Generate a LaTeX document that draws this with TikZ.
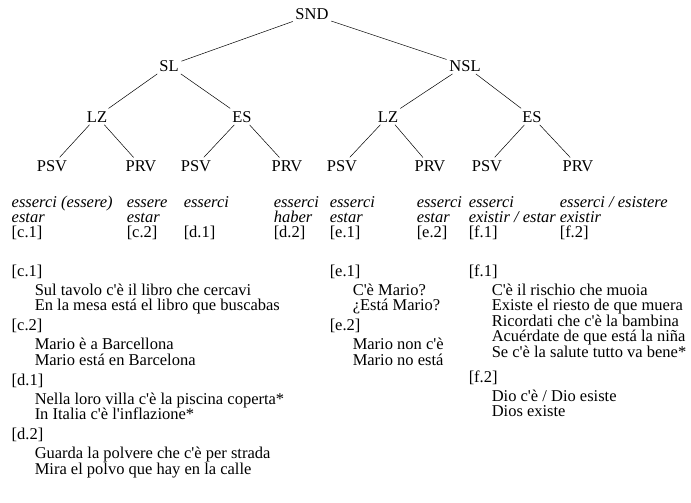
\documentclass[tikz,border=0pt]{standalone}
\usepackage{fontspec}
\setmainfont{Liberation Serif}[Ligatures=TeXOff]
\usepackage{tikz}

\begin{document}
\begin{tikzpicture}[x=1pt,y=-1pt,
   every node/.style={inner sep=2.5pt,font=\fontsize{16.5}{15}\selectfont},
   cat/.style={anchor=base},
   ex/.style={anchor=base west},
   gloss/.style={anchor=base west,font=\fontsize{16.5}{15}\selectfont\itshape},
   every path/.style={line width=0.5pt}]
   \useasboundingbox (0,0) rectangle (691,503);

   % the tree
   \node[cat] (SND) at (312,20) {SND};
   \node[cat] (SL) at (169,71) {SL};
   \node[cat] (NSL) at (465,71) {NSL};
   \node[cat] (lz-sl) at (97,122) {LZ};
   \node[cat] (es-sl) at (242,122) {ES};
   \node[cat] (lz-nsl) at (388,122) {LZ};
   \node[cat] (es-nsl) at (532,122) {ES};
   \node[cat] (psv-c1) at (52,171) {PSV};
   \node[cat] (prv-c2) at (141,171) {PRV};
   \node[cat] (psv-d1) at (196,171) {PSV};
   \node[cat] (prv-d2) at (287,171) {PRV};
   \node[cat] (psv-e1) at (342,171) {PSV};
   \node[cat] (prv-e2) at (430,171) {PRV};
   \node[cat] (psv-f1) at (487,171) {PSV};
   \node[cat] (prv-f2) at (578,171) {PRV};

   \draw (SND) -- (SL);
   \draw (SND) -- (NSL);
   \draw (SL) -- (lz-sl);
   \draw (SL) -- (es-sl);
   \draw (NSL) -- (lz-nsl);
   \draw (NSL) -- (es-nsl);
   \draw (lz-sl) -- (psv-c1);
   \draw (lz-sl) -- (prv-c2);
   \draw (es-sl) -- (psv-d1);
   \draw (es-sl) -- (prv-d2);
   \draw (lz-nsl) -- (psv-e1);
   \draw (lz-nsl) -- (prv-e2);
   \draw (es-nsl) -- (psv-f1);
   \draw (es-nsl) -- (prv-f2);

   % verbs under the leaves
   \node[gloss] (it-c1) at (9,207) {esserci (essere)};
   \node[gloss] (es-c1) at (9,222) {estar};
   \node[ex] (ref-c1) at (9,237) {[c.1]};
   \node[gloss] (it-c2) at (124,207) {essere};
   \node[gloss] (es-c2) at (124,222) {estar};
   \node[ex] (ref-c2) at (124,237) {[c.2]};
   \node[gloss] (it-d1) at (181,207) {esserci};
   \node[ex] (ref-d1) at (181,237) {[d.1]};
   \node[gloss] (it-d2) at (271,207) {esserci};
   \node[gloss] (es-d2) at (271,222) {haber};
   \node[ex] (ref-d2) at (271,237) {[d.2]};
   \node[gloss] (it-e1) at (327,207) {esserci};
   \node[gloss] (es-e1) at (327,222) {estar};
   \node[ex] (ref-e1) at (327,237) {[e.1]};
   \node[gloss] (it-e2) at (414,207) {esserci};
   \node[gloss] (es-e2) at (414,222) {estar};
   \node[ex] (ref-e2) at (414,237) {[e.2]};
   \node[gloss] (it-f1) at (466,207) {esserci};
   \node[gloss] (es-f1) at (466,222) {existir / estar};
   \node[ex] (ref-f1) at (466,237) {[f.1]};
   \node[gloss] (it-f2) at (557,207) {esserci / esistere};
   \node[gloss] (es-f2) at (557,222) {existir};
   \node[ex] (ref-f2) at (557,237) {[f.2]};

   % examples
   \node[ex] (c1) at (9,276) {[c.1]};
   \node[ex] (c1-1) at (32,295) {Sul tavolo c'è il libro che cercavi};
   \node[ex] (c1-2) at (32,310.5) {En la mesa está el libro que buscabas};
   \node[ex] (c2) at (9,330.5) {[c.2]};
   \node[ex] (c2-1) at (32,349.5) {Mario è a Barcellona};
   \node[ex] (c2-2) at (32,365) {Mario está en Barcelona};
   \node[ex] (d1) at (9,385) {[d.1]};
   \node[ex] (d1-1) at (32,404) {Nella loro villa c'è la piscina coperta*};
   \node[ex] (d1-2) at (32,419.5) {In Italia c'è l'inflazione*};
   \node[ex] (d2) at (9,439.5) {[d.2]};
   \node[ex] (d2-1) at (32,458.5) {Guarda la polvere che c'è per strada};
   \node[ex] (d2-2) at (32,474) {Mira el polvo que hay en la calle};

   \node[ex] (e1) at (327,276) {[e.1]};
   \node[ex] (e1-1) at (350,295) {C'è Mario?};
   \node[ex] (e1-2) at (350,310.5) {¿Está Mario?};
   \node[ex] (e2) at (327,330.5) {[e.2]};
   \node[ex] (e2-1) at (350,349.5) {Mario non c'è};
   \node[ex] (e2-2) at (350,365) {Mario no está};

   \node[ex] (f1) at (466,276) {[f.1]};
   \node[ex] (f1-1) at (489,295) {C'è il rischio che muoia};
   \node[ex] (f1-2) at (489,310.5) {Existe el riesto de que muera};
   \node[ex] (f1-3) at (489,326) {Ricordati che c'è la bambina};
   \node[ex] (f1-4) at (489,341.5) {Acuérdate de que está la niña};
   \node[ex] (f1-5) at (489,357) {Se c'è la salute tutto va bene*};
   \node[ex] (f2) at (466,382) {[f.2]};
   \node[ex] (f2-1) at (489,401) {Dio c'è / Dio esiste};
   \node[ex] (f2-2) at (489,416.5) {Dios existe};
\end{tikzpicture}
\end{document}
